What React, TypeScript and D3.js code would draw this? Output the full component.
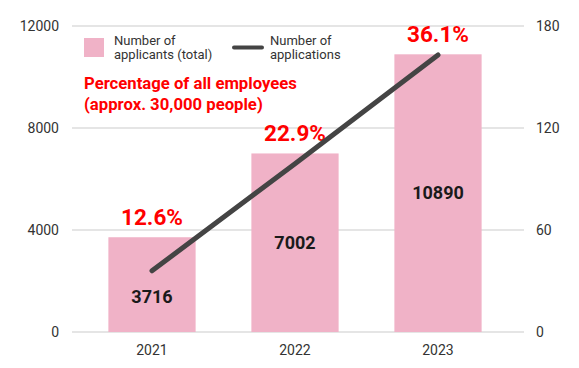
import * as d3 from "d3";
import { useRef, useEffect } from "react";

// data
const years = ["2021", "2022", "2023"];
const applicants = [3716, 7002, 10890];
const applications = [36, 99, 163];
const percentages = ["12.6%", "22.9%", "36.1%"];
const leftTicks = [0, 4000, 8000, 12000];
const rightTicks = [0, 60, 120, 180];

const W = 579;
const H = 368;
const FONT = "Roboto, 'Noto Sans', sans-serif";

const App = () => {
  const ref = useRef<SVGSVGElement>(null);

  useEffect(() => {
    const svg = d3.select(ref.current);
    svg.selectAll("*").remove();

    const plot = { left: 72, right: 524, top: 26, bottom: 332 };

    const x = d3.scalePoint().domain(years).range([80.5, 509.5]).padding(0.5);
    const barW = x.step() * 0.61;
    const yL = d3.scaleLinear().domain([0, 12000]).range([plot.bottom, plot.top]);
    const yR = d3.scaleLinear().domain([0, 180]).range([plot.bottom, plot.top]);

    // grid
    svg.append("g")
      .selectAll("line")
      .data(leftTicks)
      .join("line")
      .attr("x1", plot.left)
      .attr("x2", plot.right)
      .attr("y1", d => yL(d))
      .attr("y2", d => yL(d))
      .attr("stroke", "#dddddd")
      .attr("stroke-width", 1.5);

    // left ticks
    svg.append("g")
      .selectAll("text")
      .data(leftTicks)
      .join("text")
      .attr("x", 59)
      .attr("y", d => yL(d))
      .attr("dy", "0.35em")
      .attr("text-anchor", "end")
      .attr("font-size", 14)
      .attr("fill", "#333")
      .text(d => d);

    // right ticks
    svg.append("g")
      .selectAll("text")
      .data(rightTicks)
      .join("text")
      .attr("x", 536)
      .attr("y", d => yR(d))
      .attr("dy", "0.35em")
      .attr("font-size", 14)
      .attr("fill", "#333")
      .text(d => d);

    // x labels
    svg.append("g")
      .selectAll("text")
      .data(years)
      .join("text")
      .attr("x", d => x(d)!)
      .attr("y", 355)
      .attr("text-anchor", "middle")
      .attr("font-size", 14)
      .attr("fill", "#333")
      .text(d => d);

    // bars
    svg.append("g")
      .selectAll("rect")
      .data(applicants)
      .join("rect")
      .attr("x", (d, i) => x(years[i])! - barW / 2)
      .attr("y", d => yL(d))
      .attr("width", barW)
      .attr("height", d => yL(0) - yL(d))
      .attr("fill", "#f0b2c7");

    // values inside bars
    svg.append("g")
      .selectAll("text")
      .data(applicants)
      .join("text")
      .attr("x", (d, i) => x(years[i])!)
      .attr("y", (d, i) => (yL(d) + yL(0)) / 2 + (i === 0 ? 12 : 0))
      .attr("dy", "0.35em")
      .attr("text-anchor", "middle")
      .attr("font-size", 18)
      .attr("font-weight", "bold")
      .attr("fill", "#1a1a1a")
      .text(d => d);

    // percentages above bars
    svg.append("g")
      .selectAll("text")
      .data(applicants)
      .join("text")
      .attr("x", (d, i) => x(years[i])!)
      .attr("y", d => yL(d) - 12)
      .attr("text-anchor", "middle")
      .attr("font-size", 22.5)
      .attr("font-weight", "bold")
      .attr("fill", "#ff0000")
      .text((d, i) => percentages[i]);

    // line
    const line = d3.line<number>()
      .x((d, i) => x(years[i])!)
      .y(d => yR(d));
    svg.append("path")
      .datum(applications)
      .attr("d", line)
      .attr("fill", "none")
      .attr("stroke", "#444444")
      .attr("stroke-width", 5)
      .attr("stroke-linecap", "round");

    // legend
    const lg = svg.append("g").attr("font-size", 13).attr("fill", "#333");
    lg.append("rect").attr("x", 84).attr("y", 38).attr("width", 20).attr("height", 19).attr("fill", "#f0b2c7");
    lg.append("text").attr("x", 114).attr("y", 45).text("Number of");
    lg.append("text").attr("x", 114).attr("y", 59).text("applicants (total)");
    lg.append("line").attr("x1", 234).attr("x2", 262).attr("y1", 47.5).attr("y2", 47.5)
      .attr("stroke", "#444").attr("stroke-width", 4).attr("stroke-linecap", "round");
    lg.append("text").attr("x", 270).attr("y", 45).text("Number of");
    lg.append("text").attr("x", 270).attr("y", 59).text("applications");

    // red note
    const note = svg.append("g").attr("font-size", 16.7).attr("font-weight", "bold").attr("fill", "#ff0000");
    note.append("text").attr("x", 84).attr("y", 89).text("Percentage of all employees");
    note.append("text").attr("x", 84).attr("y", 110).text("(approx. 30,000 people)");
  }, []);

  return (
    <svg
      ref={ref}
      width={W}
      height={H}
      style={{ position: "absolute", left: 0, top: 0, fontFamily: FONT, background: "#fff" }}
    />
  );
};

export default App;
